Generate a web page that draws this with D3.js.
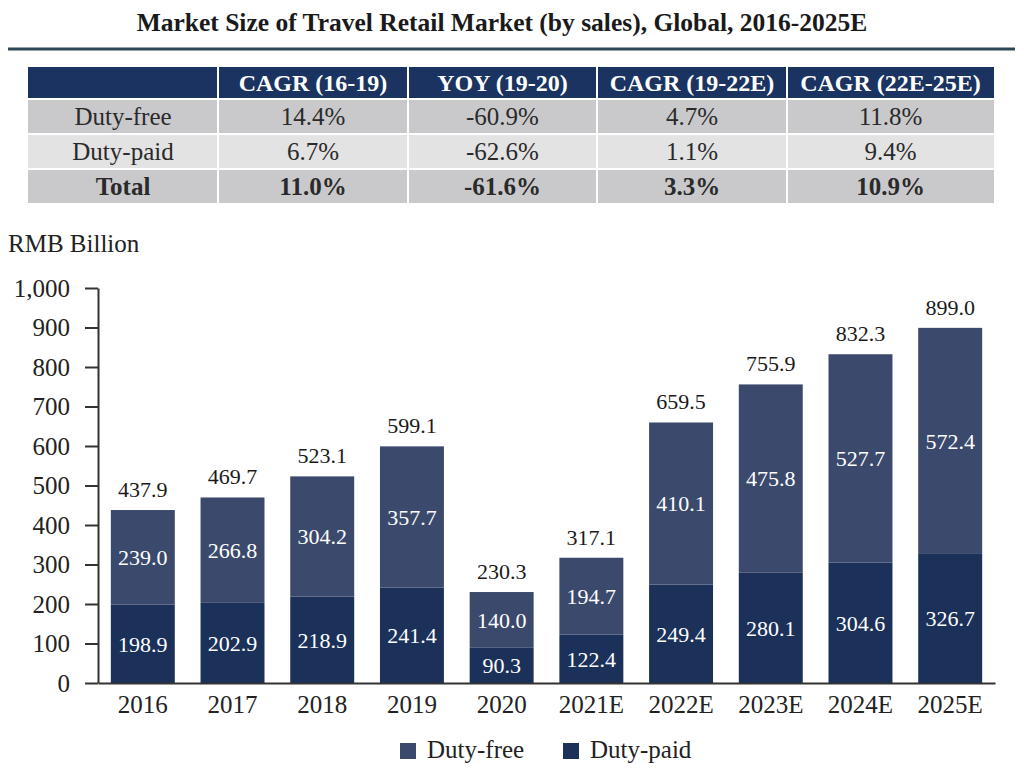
<!DOCTYPE html>
<html>
<head>
<meta charset="utf-8">
<script src="https://cdn.jsdelivr.net/npm/d3@7"></script>
<style>
  html, body { margin: 0; padding: 0; background: #ffffff; }
  svg { display: block; }
  svg text { font-family: "Times New Roman", "Liberation Serif", Times, "DejaVu Serif", serif !important; }
</style>
</head>
<body>
<svg id="chart" width="1024" height="768"></svg>
<script>
// ---------- data ----------
const title = "Market Size of Travel Retail Market (by sales), Global, 2016-2025E";
const years = ["2016", "2017", "2018", "2019", "2020", "2021E", "2022E", "2023E", "2024E", "2025E"];
const dutyPaid = [198.9, 202.9, 218.9, 241.4, 90.3, 122.4, 249.4, 280.1, 304.6, 326.7];
const dutyFree = [239.0, 266.8, 304.2, 357.7, 140.0, 194.7, 410.1, 475.8, 527.7, 572.4];
const totals = [437.9, 469.7, 523.1, 599.1, 230.3, 317.1, 659.5, 755.9, 832.3, 899.0];
const yTicks = [0, 100, 200, 300, 400, 500, 600, 700, 800, 900, 1000];
const seriesNames = ["Duty-free", "Duty-paid"];

const tableHeader = ["", "CAGR (16-19)", "YOY (19-20)", "CAGR (19-22E)", "CAGR (22E-25E)"];
const tableRowNames = ["Duty-free", "Duty-paid", "Total"];
const tableValues = [
  ["14.4%", "-60.9%", "4.7%", "11.8%"],
  ["6.7%", "-62.6%", "1.1%", "9.4%"],
  ["11.0%", "-61.6%", "3.3%", "10.9%"]
];

// ---------- styles ----------
const colFree = "#3b4a6c";
const colPaid = "#1b3159";
const colHeader = "#1a3360";
const rowFills = ["#c9c9cc", "#e3e3e3", "#c9c9cc"];
const serif = "'Times New Roman', 'Liberation Serif', Times, serif";

const svg = d3.select("#chart");

// ---------- title ----------
svg.append("text")
  .attr("x", 502).attr("y", 31)
  .attr("text-anchor", "middle")
  .attr("font-size", 25.5).attr("font-weight", "bold")
  .attr("fill", "#1a1a1a")
  .text(title);
svg.append("line")
  .attr("x1", 8).attr("x2", 1015).attr("y1", 49).attr("y2", 49)
  .attr("stroke", "#2e4858").attr("stroke-width", 3);

// ---------- table ----------
const colEdges = [28, 218, 408, 597, 787, 994];
const headerY = 67, headerH = 31;
const rowY0 = 100, rowH = 33, rowStep = 35;

const table = svg.append("g");
table.append("rect").attr("x", colEdges[0]).attr("y", headerY)
  .attr("width", colEdges[5] - colEdges[0]).attr("height", headerH).attr("fill", colHeader);
tableHeader.forEach((h, i) => {
  if (!h) return;
  table.append("text")
    .attr("x", (colEdges[i] + colEdges[i + 1]) / 2)
    .attr("y", headerY + headerH / 2 + 8)
    .attr("text-anchor", "middle")
    .attr("font-size", 24).attr("font-weight", "bold").attr("fill", "#ffffff")
    .text(h);
});
colEdges.slice(1, 5).forEach(x => {
  table.append("line").attr("x1", x).attr("x2", x).attr("y1", headerY).attr("y2", rowY0 + rowStep * 2 + rowH)
    .attr("stroke", "#ffffff").attr("stroke-width", 2);
});
tableRowNames.forEach((name, r) => {
  const y = rowY0 + r * rowStep;
  const bold = r === 2 ? "bold" : "normal";
  colEdges.slice(0, 5).forEach((x, c) => {
    table.append("rect").attr("x", x + (c ? 1 : 0)).attr("y", y)
      .attr("width", colEdges[c + 1] - x - (c ? 1 : 0) - (c < 4 ? 1 : 0)).attr("height", rowH)
      .attr("fill", rowFills[r]);
    const label = c === 0 ? name : tableValues[r][c - 1];
    table.append("text")
      .attr("x", (x + colEdges[c + 1]) / 2)
      .attr("y", y + rowH / 2 + 8)
      .attr("text-anchor", "middle")
      .attr("font-size", 25).attr("font-weight", bold).attr("fill", "#2a2a2a")
      .text(label);
  });
});

// ---------- chart ----------
const x0 = 98, x1 = 995, yBase = 683, yTop = 288;
const x = d3.scaleBand().domain(years).range([x0, x1]).paddingInner(0.287).paddingOuter(0.143);
const y = d3.scaleLinear().domain([0, 1000]).range([yBase, yTop]);

svg.append("text").attr("x", 8).attr("y", 252)
  .attr("font-size", 25).attr("fill", "#222").text("RMB Billion");

const g = svg.append("g");
years.forEach((yr, i) => {
  const bx = x(yr), bw = x.bandwidth();
  g.append("rect").attr("x", bx).attr("y", y(dutyPaid[i]))
    .attr("width", bw).attr("height", y(0) - y(dutyPaid[i])).attr("fill", colPaid);
  g.append("rect").attr("x", bx).attr("y", y(dutyPaid[i] + dutyFree[i]))
    .attr("width", bw).attr("height", y(dutyPaid[i]) - y(dutyPaid[i] + dutyFree[i])).attr("fill", colFree);
  g.append("text").attr("x", bx + bw / 2).attr("y", y(dutyPaid[i] / 2) + 8)
    .attr("text-anchor", "middle").attr("font-size", 22).attr("fill", "#ffffff")
    .text(dutyPaid[i].toFixed(1));
  g.append("text").attr("x", bx + bw / 2).attr("y", y(dutyPaid[i] + dutyFree[i] / 2) + 8)
    .attr("text-anchor", "middle").attr("font-size", 22).attr("fill", "#ffffff")
    .text(dutyFree[i].toFixed(1));
  g.append("text").attr("x", bx + bw / 2).attr("y", y(totals[i]) - 13)
    .attr("text-anchor", "middle").attr("font-size", 22).attr("fill", "#1a1a1a")
    .text(totals[i].toFixed(1));
});

const yAxis = svg.append("g").attr("transform", `translate(${x0},0)`)
  .call(d3.axisLeft(y).tickValues(yTicks).tickFormat(d3.format(",")).tickSize(13).tickSizeOuter(0).tickPadding(15));
yAxis.attr("font-family", serif);
yAxis.selectAll("path, line").attr("stroke", "#333").attr("stroke-width", 2);
yAxis.selectAll("text").attr("font-size", 25).attr("fill", "#222");

const xAxis = svg.append("g").attr("transform", `translate(0,${yBase})`)
  .call(d3.axisBottom(x).tickSize(0).tickSizeOuter(0).tickPadding(12));
xAxis.attr("font-family", serif);
xAxis.select("path").attr("stroke", "#333").attr("stroke-width", 2);
xAxis.selectAll("text").attr("font-size", 25).attr("fill", "#222");

const legendPos = [400, 563];
const legendColors = [colFree, colPaid];
seriesNames.forEach((n, i) => {
  svg.append("rect").attr("x", legendPos[i]).attr("y", 743).attr("width", 16).attr("height", 16)
    .attr("fill", legendColors[i]);
  svg.append("text").attr("x", legendPos[i] + 27).attr("y", 758)
    .attr("font-size", 25).attr("fill", "#222").text(n);
});
</script>
</body>
</html>
